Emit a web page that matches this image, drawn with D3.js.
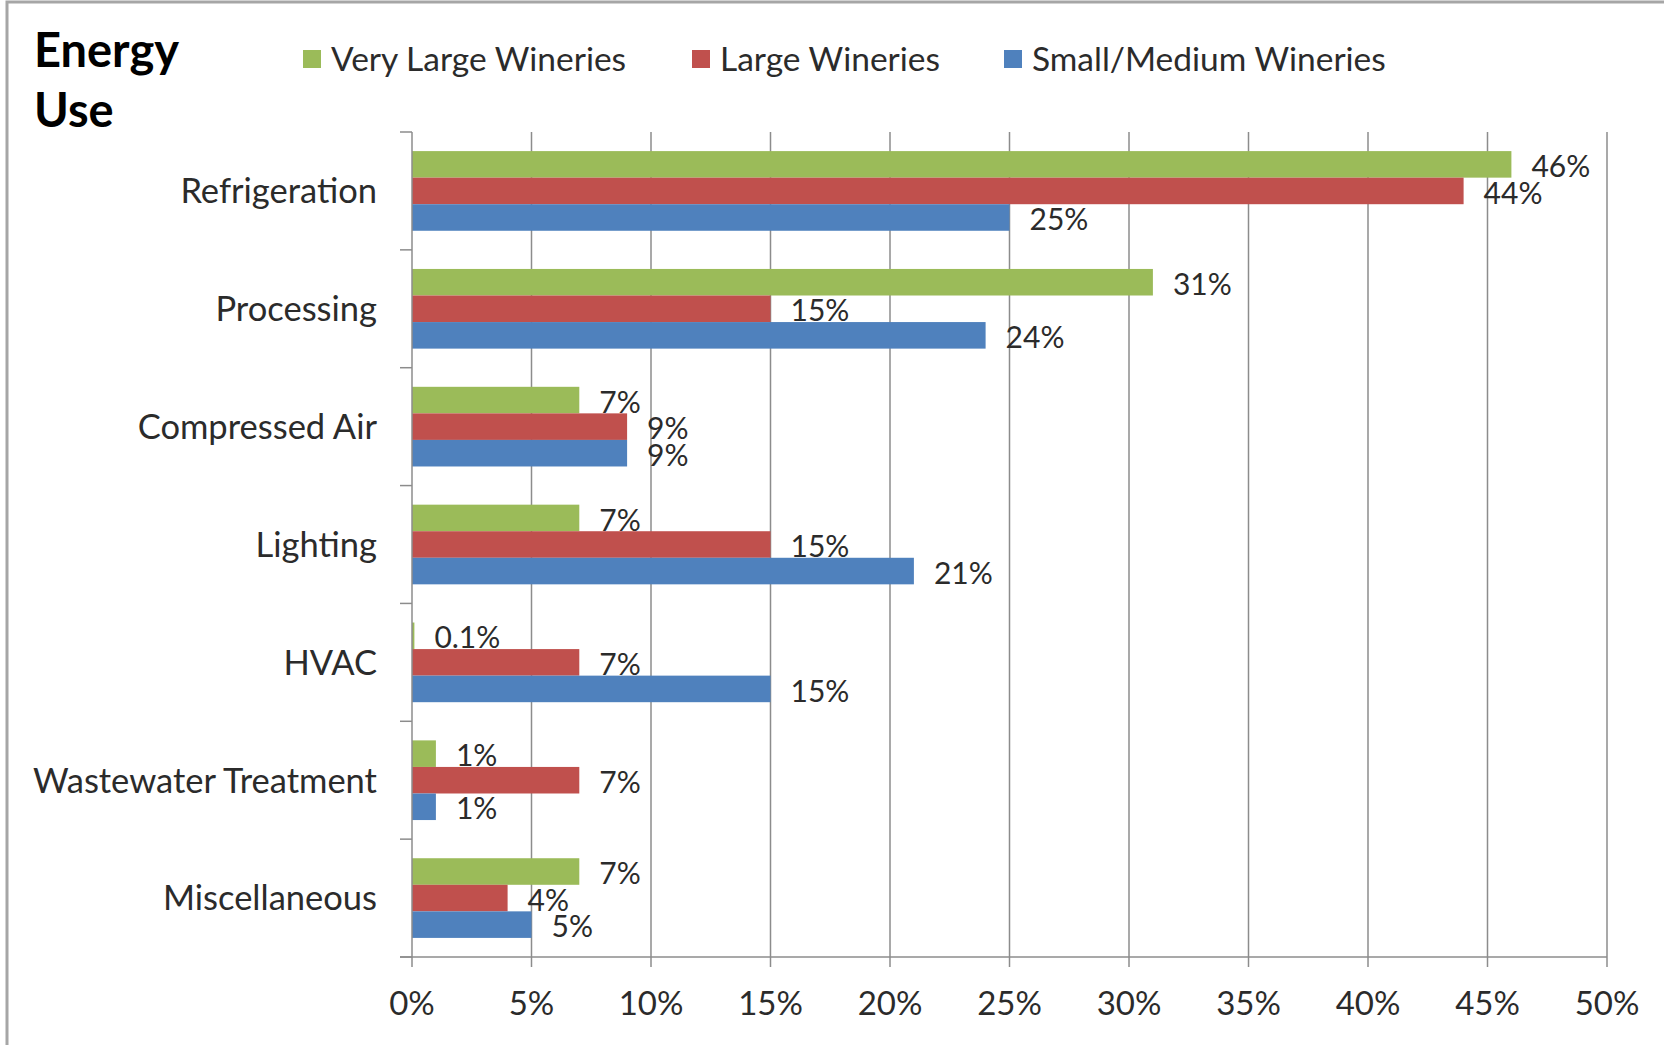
<!DOCTYPE html>
<html>
<head>
  <meta charset="UTF-8">
  <title>Energy Use</title>
  <style>
    body { margin: 0; background: white; }
    svg { display: block; font-family: Lato, 'Open Sans', sans-serif; }
    .grid line { stroke: #8c8c8c; stroke-width: 1.5px; }
    .cat text { fill: #2b2b2b; }
    .val { fill: #2b2b2b; }
  </style>
</head>
<body>
  <svg id="chart" width="1664" height="1045"></svg>

  <script src="https://d3js.org/d3.v7.min.js"></script>
  <script>
    // chart data
    let categories = ["Refrigeration", "Processing", "Compressed Air", "Lighting", "HVAC", "Wastewater Treatment", "Miscellaneous"];
    let seriesNames = ["Very Large Wineries", "Large Wineries", "Small/Medium Wineries"];
    let veryLarge = [46, 31, 7, 7, 0.1, 1, 7];
    let large = [44, 15, 9, 15, 7, 7, 4];
    let smallMedium = [25, 24, 9, 21, 15, 1, 5];
    let labelsVeryLarge = ["46%", "31%", "7%", "7%", "0.1%", "1%", "7%"];
    let labelsLarge = ["44%", "15%", "9%", "15%", "7%", "7%", "4%"];
    let labelsSmall = ["25%", "24%", "9%", "21%", "15%", "1%", "5%"];
    let xTicks = [0, 5, 10, 15, 20, 25, 30, 35, 40, 45, 50];

    let colors = ["#9bbb59", "#c0504d", "#4f81bd"];

    let width = 1664, height = 1045;
    let plotLeft = 412, plotRight = 1607, plotTop = 132, plotBottom = 957;

    let svg = d3.select("#chart");

    // frame
    svg.append("rect").attr("width", width).attr("height", height).attr("fill", "white");
    svg.append("rect")
      .attr("x", 7).attr("y", 2)
      .attr("width", width + 20).attr("height", height + 20)
      .attr("fill", "none").attr("stroke", "#a6a6a6").attr("stroke-width", 3);

    let x = d3.scaleLinear().domain([0, 50]).range([plotLeft, plotRight]);
    let y = d3.scaleBand().domain(categories).range([plotTop, plotBottom])
      .paddingInner(0.324).paddingOuter(0.162);
    let ySub = d3.scaleBand().domain(seriesNames).range([0, y.bandwidth()]);

    // vertical grid lines
    svg.append("g").attr("class", "grid")
      .selectAll("line")
      .data(xTicks.slice(1))
      .enter().append("line")
      .attr("x1", d => x(d)).attr("x2", d => x(d))
      .attr("y1", plotTop).attr("y2", plotBottom);

    // bars
    let table = categories.map((c, i) => ({
      cat: c,
      vals: [
        { s: seriesNames[0], v: veryLarge[i], label: labelsVeryLarge[i], color: colors[0] },
        { s: seriesNames[1], v: large[i], label: labelsLarge[i], color: colors[1] },
        { s: seriesNames[2], v: smallMedium[i], label: labelsSmall[i], color: colors[2] }
      ]
    }));

    let groups = svg.append("g").selectAll("g")
      .data(table)
      .enter().append("g")
      .attr("transform", d => "translate(0," + y(d.cat) + ")");

    groups.selectAll("rect")
      .data(d => d.vals)
      .enter().append("rect")
      .attr("x", x(0))
      .attr("y", d => ySub(d.s))
      .attr("width", d => x(d.v) - x(0))
      .attr("height", ySub.bandwidth())
      .attr("fill", d => d.color);

    groups.selectAll("text")
      .data(d => d.vals)
      .enter().append("text")
      .attr("class", "val")
      .attr("x", d => x(d.v) + 20)
      .attr("y", d => ySub(d.s) + ySub.bandwidth() / 2)
      .attr("dy", "0.42em")
      .style("font-size", "30px")
      .text(d => d.label);

    // y axis
    let yAxis = svg.append("g")
      .attr("class", "cat")
      .attr("transform", "translate(" + plotLeft + ",0)");
    yAxis.append("line")
      .attr("x1", 0).attr("x2", 0).attr("y1", plotTop).attr("y2", plotBottom)
      .attr("stroke", "#8c8c8c").attr("stroke-width", 1.5);
    let catTicks = categories.map(c => y(c) - y.step() * 0.162).concat([plotBottom]);
    yAxis.selectAll(".ct")
      .data(catTicks)
      .enter().append("line")
      .attr("x1", -12).attr("x2", 0)
      .attr("y1", d => d).attr("y2", d => d)
      .attr("stroke", "#8c8c8c").attr("stroke-width", 1.5);
    yAxis.selectAll("text")
      .data(categories)
      .enter().append("text")
      .attr("x", -35)
      .attr("y", d => y(d) + y.bandwidth() / 2)
      .attr("dy", "0.36em")
      .attr("text-anchor", "end")
      .style("font-size", "34.5px")
      .text(d => d);

    // x axis
    let xAxis = svg.append("g").attr("transform", "translate(0," + plotBottom + ")");
    xAxis.append("line")
      .attr("x1", plotLeft - 12).attr("x2", plotRight)
      .attr("stroke", "#8c8c8c").attr("stroke-width", 1.5);
    xAxis.selectAll(".xt")
      .data(xTicks)
      .enter().append("line")
      .attr("x1", d => x(d)).attr("x2", d => x(d))
      .attr("y1", 0).attr("y2", 10)
      .attr("stroke", "#8c8c8c").attr("stroke-width", 1.5);
    xAxis.selectAll("text")
      .data(xTicks)
      .enter().append("text")
      .attr("x", d => x(d))
      .attr("y", 46)
      .attr("dy", "0.36em")
      .attr("text-anchor", "middle")
      .attr("fill", "#2b2b2b")
      .style("font-size", "33px")
      .text(d => d + "%");

    // title
    svg.append("text").attr("x", 34).attr("y", 67)
      .style("font-size", "47px").style("font-weight", "bold").attr("fill", "black")
      .text("Energy");
    svg.append("text").attr("x", 34).attr("y", 127)
      .style("font-size", "47px").style("font-weight", "bold").attr("fill", "black")
      .text("Use");

    // legend
    let legendX = [303, 692, 1004];
    let legend = svg.append("g").selectAll("g")
      .data(seriesNames)
      .enter().append("g")
      .attr("transform", (d, i) => "translate(" + legendX[i] + ",50)");
    legend.append("rect")
      .attr("width", 18).attr("height", 18)
      .attr("fill", (d, i) => colors[i]);
    legend.append("text")
      .attr("x", 28).attr("y", 9).attr("dy", "0.36em")
      .attr("fill", "#2b2b2b")
      .style("font-size", "33.5px")
      .text(d => d);
  </script>
</body>
</html>
